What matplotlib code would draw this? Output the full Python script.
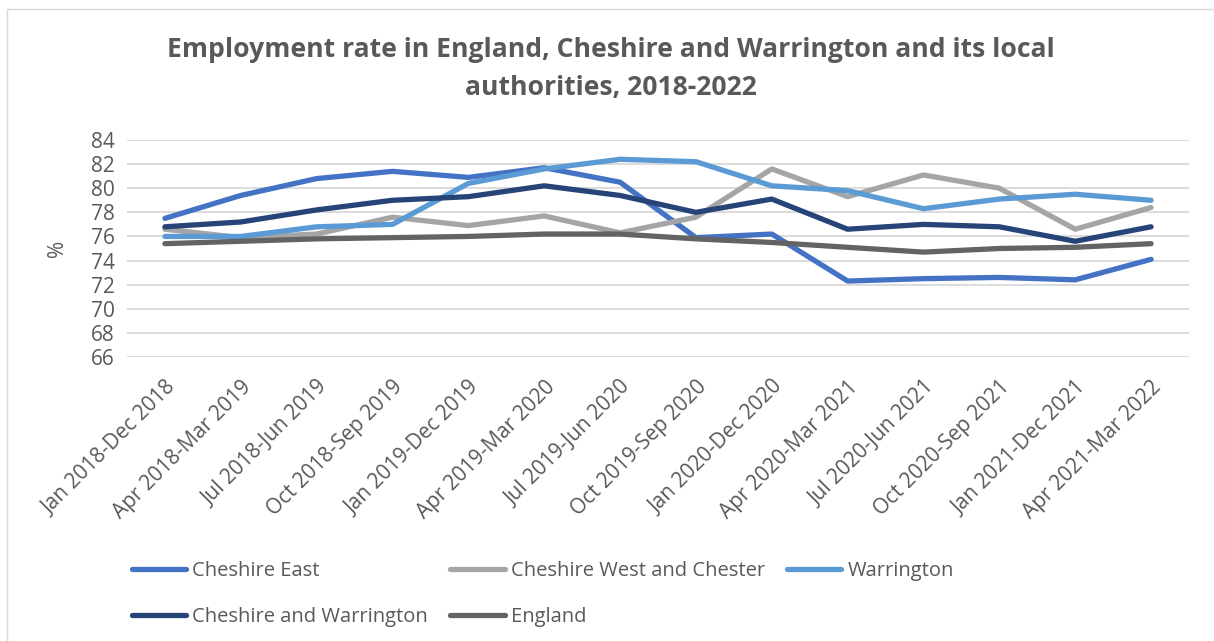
import matplotlib
matplotlib.use("Agg")
import matplotlib.pyplot as plt
from matplotlib.patches import Rectangle

plt.rcParams['font.family'] = ['Open Sans', 'DejaVu Sans']

periods = ["Jan 2018-Dec 2018", "Apr 2018-Mar 2019", "Jul 2018-Jun 2019", "Oct 2018-Sep 2019",
           "Jan 2019-Dec 2019", "Apr 2019-Mar 2020", "Jul 2019-Jun 2020", "Oct 2019-Sep 2020",
           "Jan 2020-Dec 2020", "Apr 2020-Mar 2021", "Jul 2020-Jun 2021", "Oct 2020-Sep 2021",
           "Jan 2021-Dec 2021", "Apr 2021-Mar 2022"]

cheshire_east = [77.5, 79.4, 80.8, 81.4, 80.9, 81.7, 80.5, 75.9, 76.2, 72.3, 72.5, 72.6, 72.4, 74.1]
cheshire_west = [76.6, 75.9, 76.2, 77.6, 76.9, 77.7, 76.3, 77.6, 81.6, 79.3, 81.1, 80.0, 76.6, 78.4]
warrington = [76.0, 76.0, 76.8, 77.0, 80.4, 81.6, 82.4, 82.2, 80.2, 79.8, 78.3, 79.1, 79.5, 79.0]
cheshire_warrington = [76.8, 77.2, 78.2, 79.0, 79.3, 80.2, 79.4, 78.0, 79.1, 76.6, 77.0, 76.8, 75.6, 76.8]
england = [75.4, 75.6, 75.8, 75.9, 76.0, 76.2, 76.2, 75.8, 75.5, 75.1, 74.7, 75.0, 75.1, 75.4]

series_names = ["Cheshire East", "Cheshire West and Chester", "Warrington",
                "Cheshire and Warrington", "England"]
series_values = [cheshire_east, cheshire_west, warrington, cheshire_warrington, england]
colors = ["#4472C4", "#A5A5A5", "#5B9BD5", "#264478", "#636363"]

y_ticks = [66, 68, 70, 72, 74, 76, 78, 80, 82, 84]

W, H = 1214, 641
fig = plt.figure(figsize=(W / 100, H / 100), dpi=100)
fig.patch.set_facecolor("white")
fig.add_artist(Rectangle((7 / W, -0.05), 1.2, (H - 9) / H + 0.05, transform=fig.transFigure,
                         fill=False, edgecolor="#D9D9D9", linewidth=1.0))

ax = fig.add_axes([127 / W, (H - 357) / H, (1189 - 127) / W, (357 - 140) / H])
x = list(range(len(periods)))
handles = {}
for name, vals, c in zip(series_names, series_values, colors):
    ln, = ax.plot(x, vals, color=c, linewidth=3.8, solid_capstyle="round",
                  solid_joinstyle="round", label=name)
    handles[name] = ln

ax.set_xlim(-0.5, len(periods) - 0.5)
ax.set_ylim(66, 84)
ax.set_yticks(y_ticks)
ax.set_xticks(x)
ax.set_xticklabels(periods, rotation=45, ha="right", va="top", rotation_mode="anchor",
                   fontsize=15, color="#595959")
ax.tick_params(axis="y", labelsize=15, colors="#595959", length=0, pad=9)
ax.tick_params(axis="x", length=0, pad=14)
ax.grid(axis="y", color="#D9D9D9", linewidth=1.3)
ax.set_axisbelow(True)
for s in ax.spines.values():
    s.set_visible(False)

fig.text(57 / W, (H - 248) / H, "%", rotation=90, ha="center", va="center",
         fontsize=15, color="#595959")

fig.text(611 / W, (H - 50) / H, "Employment rate in England, Cheshire and Warrington and its local",
         ha="center", va="center", fontsize=19.1, fontweight="bold", color="#595959")
fig.text(611 / W, (H - 88) / H, "authorities, 2018-2022",
         ha="center", va="center", fontsize=19.1, fontweight="bold", color="#595959")

order = ["Cheshire East", "Cheshire and Warrington", "Cheshire West and Chester", "England", "Warrington"]
leg = fig.legend([handles[n] for n in order], order, ncol=3, loc="upper left",
                 bbox_to_anchor=(124 / W, (H - 553) / H), frameon=False,
                 fontsize=14.5, handlelength=2.7, handletextpad=0.3, columnspacing=1.1,
                 labelspacing=1.3, borderaxespad=0)
for t in leg.get_texts():
    t.set_color("#595959")

fig.savefig("out.png", dpi=100, facecolor="white")
